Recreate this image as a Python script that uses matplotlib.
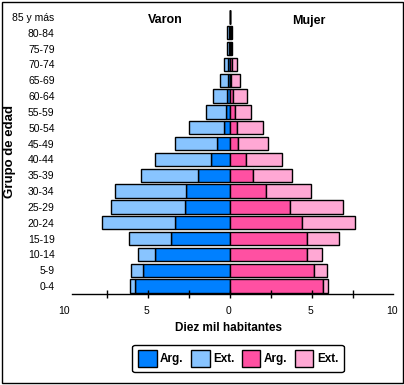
import numpy as np
import matplotlib
matplotlib.use("Agg")
import matplotlib.pyplot as plt
from matplotlib.patches import Patch, FancyBboxPatch, Rectangle

plt.rcParams['font.family'] = ['Liberation Sans', 'DejaVu Sans']

grupos = ["0-4", "5-9", "10-14", "15-19", "20-24", "25-29", "30-34", "35-39",
          "40-44", "45-49", "50-54", "55-59", "60-64", "65-69", "70-74",
          "75-79", "80-84", "85 y más"]

# diez mil habitantes
varon_arg = [5.79, 5.30, 4.57, 3.60, 3.35, 2.74, 2.68, 1.93, 1.16, 0.79,
             0.37, 0.24, 0.18, 0.12, 0.10, 0.08, 0.08, 0.01]
varon_ext = [0.33, 0.74, 1.04, 2.56, 4.45, 4.52, 4.33, 3.50, 3.41, 2.56,
             2.13, 1.22, 0.84, 0.47, 0.25, 0.10, 0.07, 0.01]
mujer_arg = [5.67, 5.12, 4.67, 4.70, 4.39, 3.66, 2.20, 1.40, 0.98, 0.49,
             0.43, 0.30, 0.18, 0.08, 0.10, 0.08, 0.06, 0.01]
mujer_ext = [0.31, 0.79, 0.94, 1.95, 3.23, 3.23, 2.74, 2.38, 2.19, 1.81,
             1.56, 0.96, 0.84, 0.51, 0.30, 0.07, 0.04, 0.01]

eje_valores = [-10, -5, 0, 5, 10]
eje_marcas = [-7.5, -5, -2.5, 0, 2.5, 5, 7.5]

c_varon_arg = "#0080FF"
c_varon_ext = "#88C4FF"
c_mujer_arg = "#FF50A2"
c_mujer_ext = "#FFA8D4"

W, H = 404, 385
fig = plt.figure(figsize=(W / 100, H / 100), dpi=100)
ax = fig.add_axes([72 / W, 1 - 294 / H, (393 - 72) / W, (294 - 9) / H])

y = np.arange(len(grupos))
va = np.array(varon_arg)
ve = np.array(varon_ext)
ma = np.array(mujer_arg)
me = np.array(mujer_ext)
kw = dict(height=0.85, edgecolor="black", linewidth=1.0)

ax.barh(y, -va, color=c_varon_arg, **kw)
ax.barh(y, -ve, left=-va, color=c_varon_ext, **kw)
ax.barh(y, ma, color=c_mujer_arg, **kw)
ax.barh(y, me, left=ma, color=c_mujer_ext, **kw)

ax.set_xlim(-9.63, 9.94)
ax.set_ylim(-0.5, 17.5)

for s in ["top", "right", "left"]:
    ax.spines[s].set_visible(False)
ax.spines["bottom"].set_linewidth(1.0)

ax.set_xticks(eje_marcas)
ax.set_xticklabels([])
ax.tick_params(axis="x", direction="inout", length=6, width=1.0)
for v in eje_valores:
    ax.text(v - 0.1, -0.5, str(abs(v)), transform=ax.transData,
            ha="center", va="top", fontsize=7.5)
# move value labels a bit below the axis
for t in ax.texts:
    t.set_position((t.get_position()[0], -1.55))
    t.set_va("center")
    t.set_clip_on(False)

ax.set_yticks(y)
ax.set_yticklabels(grupos, fontsize=7.5)
ax.tick_params(axis="y", length=0, pad=12.5)

ax.text(-3.96, 16.8, "Varon", ha="center", va="center",
        fontsize=9, fontweight="bold")
ax.text(4.8, 16.75, "Mujer", ha="center", va="center",
        fontsize=9, fontweight="bold")

fig.text(229 / W, 1 - 328 / H, "Diez mil habitantes", ha="center",
         va="center", fontsize=8.5, fontweight="bold")
fig.text(10 / W, 1 - 151 / H, "Grupo de edad", ha="center", va="center",
         rotation=90, fontsize=9.5, fontweight="bold")

handles = [Patch(facecolor=c, edgecolor="black", linewidth=1.0)
           for c in [c_varon_arg, c_varon_ext, c_mujer_arg, c_mujer_ext]]
leg = fig.legend(handles, ["Arg.", "Ext.", "Arg.", "Ext."], ncol=4,
                 loc="center", bbox_to_anchor=(238 / W, 1 - 358.5 / H),
                 prop={"size": 8.5, "weight": "bold"},
                 handlelength=1.6, handleheight=1.75, handletextpad=0.3,
                 columnspacing=0.6, borderpad=0.45, fancybox=True,
                 framealpha=1, edgecolor="black")
leg.get_frame().set_linewidth(1.0)

fig.patches.append(Rectangle((1.5 / W, 1 - 383 / H), 401 / W, 381.5 / H,
                             transform=fig.transFigure, fill=False,
                             edgecolor="black", linewidth=1.0))

fig.savefig("out.png", dpi=100)
